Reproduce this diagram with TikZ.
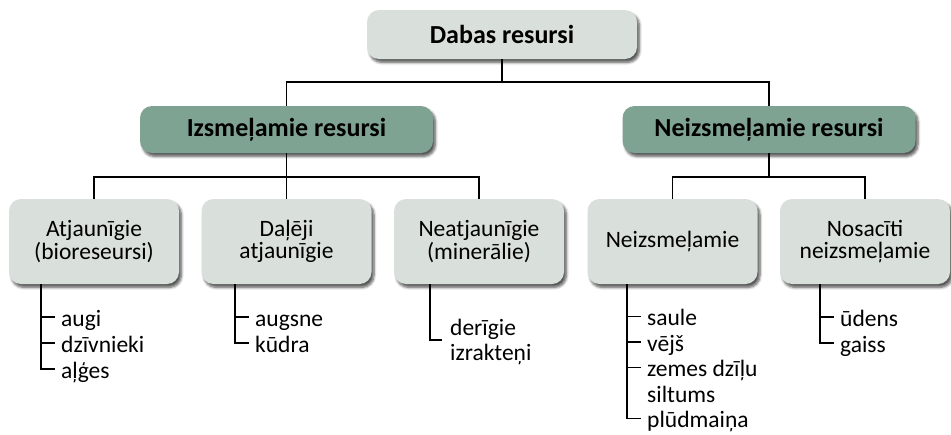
\documentclass[tikz,border=0pt]{standalone}
\usepackage{fontspec}
\setmainfont{Carlito}
\usetikzlibrary{shadows.blur}
\definecolor{lightbox}{RGB}{217,223,219}
\definecolor{darkbox}{RGB}{127,163,146}
\begin{document}
\begin{tikzpicture}[x=1pt,y=-1pt,
  box/.style={rounded corners=12pt, align=center, inner sep=2pt,
    blur shadow={shadow xshift=2.5pt, shadow yshift=-3.5pt, shadow blur steps=6, shadow opacity=65, shadow blur radius=2.5pt}},
  topbox/.style={box, fill=lightbox, minimum width=270pt, minimum height=49pt, font=\fontsize{26}{26}\selectfont\bfseries},
  midbox/.style={box, fill=darkbox, minimum width=293pt, minimum height=47pt, font=\fontsize{26}{26}\selectfont\bfseries},
  leafbox/.style={box, fill=lightbox, minimum width=170pt, minimum height=85pt, font=\fontsize{23.5}{22.5}\selectfont},
  twoline/.style={execute at begin node={\rule{0pt}{23pt}}},
  listitem/.style={anchor=base west, inner sep=0pt, font=\fontsize{23.5}{25}\selectfont},
  conn/.style={draw, line width=1.2pt}
]
\useasboundingbox (0,0) rectangle (951,434);

\node[topbox] (dabas) at (502,34.5) {Dabas resursi};
\node[midbox] (izsm) at (286.5,129.5) {Izsmeļamie resursi};
\node[midbox] (neizsm) at (769,129.5) {Neizsmeļamie resursi};

\node[leafbox, twoline] (atj) at (94,241.5) {Atjaunīgie\\(bioreseursi)};
\node[leafbox, twoline] (dal) at (286.5,241.5) {Daļēji\\atjaunīgie};
\node[leafbox, twoline] (neat) at (479,241.5) {Neatjaunīgie\\(minerālie)};
\node[leafbox] (neiz) at (672.5,241.5) {Neizsmeļamie};
\node[leafbox, twoline] (nos) at (865,241.5) {Nosacīti\\neizsmeļamie};

\coordinate (j0) at (502,82);
\draw[conn] (dabas.south) -- (j0);
\draw[conn] (izsm.north) |- (j0) -| (neizsm.north);

\coordinate (j1) at (286.5,177);
\draw[conn] (izsm.south) -- (j1);
\draw[conn] (atj.north) |- (j1) -| (neat.north);
\draw[conn] (j1) -- (dal.north);

\coordinate (j2) at (769,177);
\draw[conn] (neizsm.south) -- (j2);
\draw[conn] (neiz.north) |- (j2) -| (nos.north);

% Atjaunigie
\node[listitem] (a1) at (61,326) {augi};
\node[listitem] (a2) at (61,352) {dzīvnieki};
\node[listitem] (a3) at (61,378) {aļģes};
\foreach \i in {1,2,3} \draw[conn] (atj.south -| 41,0) |- ([xshift=-6pt,yshift=9pt]a\i.base west);

% Daleji
\node[listitem] (d1) at (255,326) {augsne};
\node[listitem] (d2) at (255,352) {kūdra};
\foreach \i in {1,2} \draw[conn] (dal.south -| 235,0) |- ([xshift=-6pt,yshift=9pt]d\i.base west);

% Neatjaunigie
\node[listitem] (n1) at (450,335) {derīgie};
\node[listitem] (n2) at (450,360) {izrakteņi};
\draw[conn] (neat.south -| 430,0) |- ([xshift=-8pt,yshift=-5pt]n1.base west);

% Neizsmelamie
\node[listitem] (z1) at (647,325.5) {saule};
\node[listitem] (z2) at (647,351) {vējš};
\node[listitem] (z3) at (647,376.5) {zemes dzīļu};
\node[listitem] (z4) at (647,402) {siltums};
\node[listitem] (z5) at (647,427.5) {plūdmaiņa};
\foreach \i in {1,2,3,5} \draw[conn] (neiz.south -| 627,0) |- ([xshift=-6pt,yshift=9pt]z\i.base west);

% Nosaciti
\node[listitem] (s1) at (840,326) {ūdens};
\node[listitem] (s2) at (840,352) {gaiss};
\foreach \i in {1,2} \draw[conn] (nos.south -| 820,0) |- ([xshift=-6pt,yshift=9pt]s\i.base west);
\end{tikzpicture}
\end{document}
